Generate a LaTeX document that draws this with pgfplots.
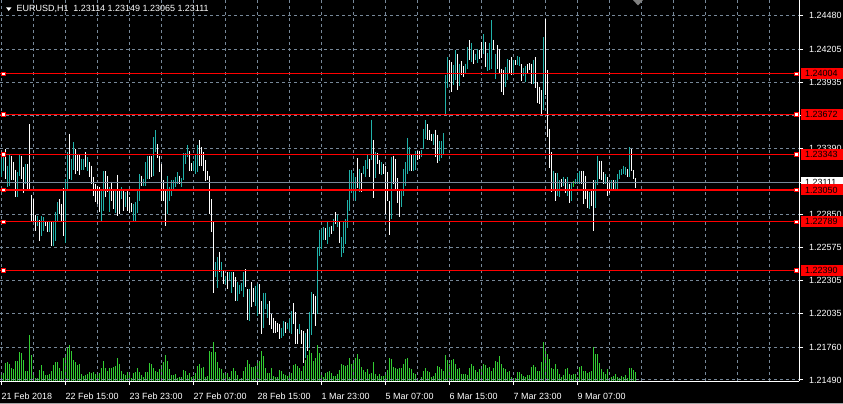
\documentclass[border=0pt]{standalone}
\usepackage{pgfplots}
\pgfplotsset{compat=1.18}
\usepackage{pgfplotstable}
\usepackage{fontspec}
\setmainfont{Liberation Sans}
\definecolor{mtgrid}{RGB}{119,136,153}
\definecolor{mtbull}{RGB}{32,178,170}
\definecolor{mtvol}{RGB}{50,205,50}
\newcommand{\lbl}{\fontsize{9}{10}\selectfont}

\pgfplotstableread[row sep=\\]{
k h l\\
0 1.23306 1.23155\\ 1 1.23333 1.23210\\ 3 1.23251 1.23073\\ 4 1.23347 1.23086\\ 8 1.23196 1.22990\\
9 1.23347 1.23169\\ 12 1.23265 1.23100\\ 18 1.22839 1.22757\\ 20 1.22834 1.22675\\ 21 1.22826 1.22716\\
24 1.22798 1.22702\\ 26 1.22790 1.22587\\ 27 1.22872 1.22634\\ 28 1.22949 1.22785\\ 32 1.23141 1.22614\\
33 1.23361 1.23045\\ 35 1.23306 1.23128\\ 36 1.23443 1.23218\\ 40 1.23306 1.23218\\ 41 1.23306 1.23218\\
43 1.23320 1.23202\\ 50 1.23045 1.22790\\ 51 1.23202 1.22881\\ 54 1.23073 1.22867\\ 57 1.23059 1.22861\\
60 1.23073 1.22977\\ 62 1.23031 1.22908\\ 66 1.22935 1.22798\\ 67 1.22949 1.22790\\ 68 1.23042 1.22861\\
69 1.23182 1.22963\\ 71 1.23141 1.23086\\ 72 1.23278 1.23086\\ 73 1.23333 1.23141\\ 76 1.23484 1.23169\\
77 1.23539 1.23361\\ 83 1.23169 1.22853\\ 84 1.23078 1.22963\\ 85 1.23128 1.23004\\ 86 1.23133 1.23045\\
87 1.23155 1.23073\\ 88 1.23196 1.23100\\ 90 1.23149 1.23073\\ 91 1.23355 1.23128\\ 92 1.23355 1.23265\\
93 1.23416 1.23320\\ 96 1.23287 1.23204\\ 97 1.23347 1.23182\\ 98 1.23416 1.23196\\ 107 1.22455 1.22332\\
108 1.22502 1.22244\\ 110 1.22455 1.22332\\ 112 1.22345 1.22277\\ 114 1.22373 1.22310\\ 115 1.22373 1.22200\\
118 1.22291 1.22140\\ 119 1.22269 1.22195\\ 120 1.22285 1.22222\\ 121 1.22373 1.22167\\ 124 1.22236 1.21975\\
127 1.22263 1.22099\\ 128 1.22277 1.22016\\ 131 1.22208 1.21915\\ 132 1.22208 1.22071\\ 133 1.22112 1.22002\\
140 1.21920 1.21832\\ 141 1.21975 1.21852\\ 143 1.21961 1.21906\\ 144 1.21989 1.21893\\ 145 1.22057 1.21865\\
149 1.21948 1.21865\\ 152 1.21879 1.21673\\ 154 1.22049 1.21756\\ 155 1.22214 1.21860\\ 158 1.22579 1.22030\\
159 1.22724 1.22510\\ 160 1.22730 1.22565\\ 161 1.22743 1.22639\\ 163 1.22798 1.22606\\ 164 1.22749 1.22667\\
166 1.22812 1.22716\\ 168 1.22848 1.22743\\ 170 1.22661 1.22502\\ 171 1.22785 1.22529\\ 172 1.22812 1.22606\\
173 1.22968 1.22738\\ 174 1.23215 1.22875\\ 175 1.23215 1.23023\\ 176 1.23188 1.22985\\ 177 1.23155 1.22957\\
179 1.23224 1.23031\\ 181 1.23243 1.23182\\ 182 1.23298 1.23155\\ 183 1.23347 1.23224\\ 185 1.23627 1.23298\\
187 1.23361 1.23149\\ 190 1.23278 1.23177\\ 195 1.23325 1.22812\\ 200 1.23051 1.22908\\ 201 1.23224 1.23004\\
202 1.23278 1.23086\\ 203 1.23479 1.23182\\ 204 1.23402 1.23204\\ 206 1.23342 1.23210\\ 207 1.23374 1.23215\\
210 1.23380 1.23325\\ 211 1.23553 1.23388\\ 212 1.23621 1.23471\\ 216 1.23512 1.23416\\ 219 1.23451 1.23292\\
220 1.23451 1.23314\\ 221 1.23517 1.23342\\ 222 1.23992 1.23663\\ 223 1.24143 1.23890\\ 226 1.24074 1.23910\\
227 1.24198 1.23951\\ 229 1.24088 1.23901\\ 232 1.24088 1.24006\\ 233 1.24225 1.24047\\ 235 1.24258 1.24102\\
237 1.24170 1.24121\\ 238 1.24211 1.24093\\ 241 1.24329 1.24170\\ 243 1.24176 1.24028\\ 244 1.24261 1.24033\\
245 1.24445 1.24047\\ 247 1.24170 1.23964\\ 252 1.24060 1.23896\\ 253 1.24129 1.23951\\ 256 1.24121 1.24006\\
258 1.24148 1.24074\\ 259 1.24143 1.24066\\ 261 1.24055 1.23984\\ 262 1.24066 1.23937\\ 266 1.24121 1.23923\\
271 1.24307 1.23704\\ 276 1.23210 1.23045\\ 278 1.23188 1.23004\\ 279 1.23128 1.22996\\ 281 1.23160 1.23086\\
283 1.23155 1.23004\\ 285 1.23106 1.22957\\ 287 1.23141 1.23100\\ 288 1.23188 1.23100\\ 289 1.23210 1.23100\\
294 1.23031 1.22894\\ 297 1.23128 1.22902\\ 298 1.23333 1.23095\\ 302 1.23182 1.23100\\ 305 1.23128 1.23045\\
307 1.23128 1.23051\\ 308 1.23182 1.23059\\ 309 1.23215 1.23141\\ 310 1.23224 1.23177\\ 311 1.23251 1.23182\\
312 1.23237 1.23177\\ 314 1.23402 1.23155\\
}\bull

\pgfplotstableread[row sep=\\]{
k h l\\
2 1.23388 1.23141\\ 5 1.23333 1.23128\\ 6 1.23284 1.23128\\ 7 1.23218 1.22990\\ 10 1.23333 1.23141\\
11 1.23237 1.23023\\ 13 1.23265 1.23045\\ 14 1.23589 1.23053\\ 15 1.23012 1.22798\\ 16 1.22977 1.22798\\
17 1.22848 1.22716\\ 19 1.22806 1.22634\\ 22 1.22798 1.22752\\ 23 1.22790 1.22702\\ 25 1.22785 1.22587\\
29 1.22977 1.22853\\ 30 1.22935 1.22785\\ 31 1.23067 1.22675\\ 34 1.23512 1.23141\\ 37 1.23388 1.23182\\
38 1.23347 1.23210\\ 39 1.23347 1.23174\\ 42 1.23366 1.23237\\ 44 1.23284 1.23155\\ 45 1.23251 1.23100\\
46 1.23155 1.23004\\ 47 1.23100 1.22949\\ 48 1.23086 1.22935\\ 49 1.23073 1.22867\\ 52 1.23202 1.22990\\
53 1.23169 1.23031\\ 55 1.23119 1.22963\\ 56 1.23051 1.22894\\ 58 1.23177 1.22834\\ 59 1.23045 1.22853\\
61 1.23051 1.22881\\ 63 1.23045 1.22881\\ 64 1.22990 1.22861\\ 65 1.22944 1.22867\\ 70 1.23169 1.23086\\
74 1.23333 1.23141\\ 75 1.23333 1.23155\\ 78 1.23429 1.23311\\ 79 1.23333 1.23196\\ 80 1.23265 1.22963\\
81 1.23133 1.22963\\ 82 1.23059 1.22757\\ 89 1.23169 1.23100\\ 94 1.23374 1.23204\\ 95 1.23270 1.23210\\
99 1.23457 1.23251\\ 100 1.23402 1.23251\\ 101 1.23361 1.23210\\ 102 1.23298 1.23122\\ 103 1.23204 1.23133\\
104 1.23169 1.22853\\ 105 1.22977 1.22702\\ 106 1.22785 1.22200\\ 109 1.22543 1.22373\\ 111 1.22392 1.22277\\
113 1.22373 1.22236\\ 116 1.22373 1.22255\\ 117 1.22332 1.22140\\ 122 1.22400 1.22255\\ 123 1.22236 1.21983\\
125 1.22291 1.22085\\ 126 1.22249 1.22126\\ 129 1.22277 1.22030\\ 130 1.22140 1.21871\\ 134 1.22140 1.21942\\
135 1.22035 1.21906\\ 136 1.22002 1.21879\\ 137 1.21975 1.21879\\ 138 1.21961 1.21887\\ 139 1.21948 1.21824\\
142 1.21967 1.21879\\ 146 1.22120 1.21948\\ 147 1.22044 1.21788\\ 148 1.21906 1.21788\\ 150 1.21898 1.21788\\
151 1.21893 1.21632\\ 153 1.21906 1.21728\\ 156 1.22195 1.22035\\ 157 1.22181 1.21934\\ 162 1.22738 1.22639\\
165 1.22757 1.22688\\ 167 1.22867 1.22771\\ 169 1.22793 1.22612\\ 178 1.23314 1.23067\\ 180 1.23188 1.23031\\
184 1.23306 1.23160\\ 186 1.23462 1.22985\\ 188 1.23353 1.23265\\ 189 1.23298 1.23182\\ 191 1.23265 1.23182\\
192 1.23251 1.22853\\ 193 1.23196 1.22963\\ 194 1.22963 1.22683\\ 196 1.23333 1.23100\\ 197 1.23306 1.23059\\
198 1.23149 1.22941\\ 199 1.23051 1.22826\\ 205 1.23347 1.23210\\ 208 1.23374 1.23298\\ 209 1.23374 1.23306\\
213 1.23589 1.23457\\ 214 1.23545 1.23457\\ 215 1.23506 1.23451\\ 217 1.23545 1.23325\\ 218 1.23498 1.23270\\
224 1.24115 1.23937\\ 225 1.24102 1.23855\\ 228 1.24170 1.23868\\ 230 1.24110 1.23992\\ 231 1.24066 1.23978\\
234 1.24280 1.24115\\ 236 1.24198 1.24082\\ 239 1.24203 1.24129\\ 240 1.24264 1.24137\\ 242 1.24266 1.24060\\
246 1.24285 1.24198\\ 248 1.24239 1.24047\\ 249 1.24211 1.24006\\ 250 1.24047 1.23855\\ 251 1.24039 1.23827\\
254 1.24115 1.24006\\ 255 1.24143 1.23992\\ 257 1.24115 1.24074\\ 260 1.24082 1.23945\\ 263 1.24082 1.24006\\
264 1.24093 1.24033\\ 265 1.24088 1.23918\\ 267 1.24143 1.23890\\ 268 1.23937 1.23764\\ 269 1.23896 1.23759\\
270 1.23868 1.23676\\ 272 1.24458 1.23827\\ 273 1.24039 1.23484\\ 274 1.23553 1.23232\\ 275 1.23361 1.23031\\
277 1.23188 1.22963\\ 280 1.23141 1.23073\\ 282 1.23141 1.23023\\ 284 1.23100 1.22941\\ 290 1.23210 1.23100\\
291 1.23210 1.22935\\ 292 1.23169 1.22977\\ 293 1.23059 1.22902\\ 295 1.23045 1.22922\\ 296 1.23128 1.22716\\
299 1.23292 1.23141\\ 300 1.23292 1.23128\\ 301 1.23196 1.23100\\ 303 1.23155 1.23004\\ 304 1.23106 1.23023\\
306 1.23128 1.23051\\ 313 1.23224 1.23155\\ 315 1.23388 1.23204\\ 316 1.23215 1.23141\\ 317 1.23149 1.23065\\
}\bear

\pgfplotstableread[row sep=\\]{
k h l\\
286 1.23122 1.23073\\
}\doji

\pgfplotstableread[row sep=\\]{
k v\\
0 9.3\\1 7.7\\2 17.7\\3 19.3\\4 16.7\\5 12.7\\6 11.7\\7 20\\8 20\\9 28.7\\
10 28\\11 20.7\\12 10\\13 10\\14 46\\15 26\\16 8.7\\17 2.7\\18 3.3\\19 10.7\\
20 16\\21 10\\22 6\\23 6\\24 6.7\\25 10\\26 16\\27 18.7\\28 18.7\\29 12.7\\
30 10\\31 22.7\\32 26.7\\33 33.3\\34 36\\35 30\\36 21\\37 19.3\\38 16\\39 16.7\\
40 6.7\\41 5.3\\42 6\\43 6.7\\44 8.7\\45 7.7\\46 9.3\\47 6.7\\48 8.7\\49 7.7\\
50 12.7\\51 20\\52 12.7\\53 10\\54 13.3\\55 12.7\\56 14.3\\57 15.3\\58 22.7\\59 16.7\\
60 10\\61 6.7\\62 6\\63 8.7\\64 9.3\\65 3.3\\66 8\\67 8.7\\68 12.7\\69 9.3\\
70 6\\71 4.3\\72 8.7\\73 9.3\\74 18\\75 17.3\\76 13.3\\77 10\\78 8.7\\79 12\\
80 16\\81 19.3\\82 26\\83 20.3\\84 11.7\\85 6\\86 6\\87 7\\88 2.7\\89 3.7\\
90 4.3\\91 11\\92 10.3\\93 6\\94 8.3\\95 4.3\\96 5\\97 8.3\\98 15\\99 17\\
100 12.7\\101 13.7\\102 3.7\\103 5\\104 30\\105 29.3\\106 39.3\\107 29.3\\108 19.3\\109 12.7\\
110 11.7\\111 7.7\\112 6\\113 8.3\\114 4.3\\115 10.3\\116 12.7\\117 10.3\\118 6\\119 1.7\\
120 2.7\\121 10.3\\122 14.3\\123 21\\124 17\\125 14.3\\126 14.3\\127 15\\128 21\\129 20\\
130 30\\131 25\\132 12.7\\133 8.3\\134 7.7\\135 12.7\\136 5\\137 3.7\\138 3.7\\139 11\\
140 10.3\\141 7\\142 6\\143 5\\144 8.3\\145 8.3\\146 16\\147 17\\148 15\\149 12.7\\
150 10.3\\151 15\\152 21\\153 26\\154 31\\155 27.7\\156 20.3\\157 22.7\\158 36\\159 28.3\\
160 8.3\\161 4\\162 8.3\\163 9.3\\164 10\\165 8.3\\166 5\\167 5\\168 6.7\\169 10.7\\
170 16.7\\171 16\\172 15\\173 16\\174 22.7\\175 16.7\\176 20\\177 22.7\\178 26.7\\179 21.7\\
180 14\\181 10.7\\182 9.3\\183 11.7\\184 6.7\\185 8.3\\186 19.3\\187 6.7\\188 5\\189 6.7\\
190 5\\191 5\\192 7.3\\193 10.7\\194 23.3\\195 21.7\\196 14\\197 12.7\\198 11.7\\199 12.7\\
200 13.3\\201 16.7\\202 21.7\\203 22.7\\204 12.7\\205 11.7\\206 8.3\\207 7.3\\208 1.7\\209 0.7\\
210 4\\211 10\\212 12.7\\213 10\\214 9\\215 4\\216 5\\217 8.3\\218 15\\219 14\\
220 11.7\\221 10\\222 26\\223 20.7\\224 16.7\\225 20.7\\226 21.7\\227 17.3\\228 11.7\\229 12.7\\
230 7.3\\231 6.7\\232 7.3\\233 6\\234 13.3\\235 17.3\\236 15\\237 10.7\\238 9.3\\239 11.7\\
240 15\\241 17.3\\242 16\\243 13.3\\244 14\\245 10\\246 13.3\\247 20\\248 19.3\\249 25\\
250 17.3\\251 13.3\\252 11.7\\253 9.3\\254 10\\255 4\\256 1.7\\257 3.3\\258 9.3\\259 9.3\\
260 6.7\\261 5\\262 4\\263 6\\264 6\\265 14\\266 16\\267 14\\268 10\\269 10\\
270 19.3\\271 39.3\\272 31.7\\273 27.3\\274 21.7\\275 12.7\\276 11.7\\277 16.7\\278 11.7\\279 7.3\\
280 4\\281 6\\282 11.7\\283 12.7\\284 6.7\\285 6\\286 6.7\\287 7.3\\288 4\\289 14\\
290 15\\291 10\\292 10\\293 8.3\\294 9.3\\295 10\\296 34\\297 27.3\\298 26.7\\299 18.3\\
300 11.7\\301 9.3\\302 7.3\\303 11.7\\304 2.7\\305 4\\306 5\\307 7.3\\308 4\\309 3.3\\
310 5\\311 4\\312 6\\313 3.3\\314 12.7\\315 12.7\\316 10.7\\317 9.3\\
}\vol

\begin{document}
\begin{tikzpicture}
\fill[black] (0,0) rectangle (843bp,404bp);
\path[use as bounding box] (0,0) rectangle (843bp,404bp);

% volume
\begin{axis}[at={(0bp,23bp)}, anchor=south west, width=799bp, height=381bp,
  scale only axis, xmin=-0.75, xmax=398.75, ymin=0, ymax=381, hide axis]
\addplot[ycomb, mtvol, line width=1bp, mark=none] table[x=k,y=v]{\vol};
\end{axis}

% price
\begin{axis}[at={(0bp,23bp)}, anchor=south west, width=799bp, height=381bp,
  scale only axis, xmin=-0.75, xmax=398.75, ymin=1.214811, ymax=1.246106,
  axis x line*=bottom, axis y line*=right,
  axis line style={white, line width=1bp},
  tick align=outside, major tick length=4bp, minor tick length=0pt,
  major tick style={white, line width=1bp},
  xtick={0,32,...,288},
  xticklabels={21 Feb 2018,22 Feb 15:00,23 Feb 23:00,27 Feb 07:00,28 Feb 15:00,1 Mar 23:00,5 Mar 07:00,6 Mar 15:00,7 Mar 23:00,9 Mar 07:00},
  minor xtick={16,48,...,304,320,336,352,368,384},
  ytick={1.21490,1.21760,1.22035,1.22305,1.22575,1.22850,1.23115,1.23390,1.23660,1.23935,1.24205,1.24480},
  yticklabels={1.21490,1.21760,1.22035,1.22305,1.22575,1.22850,1.23115,1.23390,1.23660,1.23935,1.24205,1.24480},
  xmajorgrids, xminorgrids, ymajorgrids,
  major grid style={mtgrid, dash pattern=on 3bp off 3bp, line width=1bp},
  minor grid style={mtgrid, dash pattern=on 3bp off 3bp, line width=1bp},
  tick label style={font=\lbl, text=white},
  xticklabel style={anchor=base west, inner sep=0pt, yshift=-14.7bp},
  yticklabel style={anchor=west, inner sep=0pt, xshift=6bp},
]
\addplot[draw=none, mark=none, forget plot, error bars/.cd, y dir=minus, y explicit, error mark=none,
  error bar style={draw=mtbull, line width=1bp}] table[x=k, y=h, y error expr=\thisrow{h}-\thisrow{l}]{\bull};
\addplot[draw=none, mark=none, forget plot, error bars/.cd, y dir=minus, y explicit, error mark=none,
  error bar style={draw=white, line width=1bp}] table[x=k, y=h, y error expr=\thisrow{h}-\thisrow{l}]{\bear};
\addplot[draw=none, mark=none, forget plot, error bars/.cd, y dir=minus, y explicit, error mark=none,
  error bar style={draw=mtvol, line width=1bp}] table[x=k, y=h, y error expr=\thisrow{h}-\thisrow{l}]{\doji};

% bid line
\addplot[mtgrid, line width=1bp] coordinates {(-0.75,1.23111) (398.75,1.23111)};

% horizontal levels
\addplot[red, line width=1.1bp] coordinates {(-0.75,1.24004) (398.75,1.24004)};
\addplot[red, line width=1.1bp] coordinates {(-0.75,1.23672) (398.75,1.23672)};
\addplot[red, line width=1.1bp] coordinates {(-0.75,1.23343) (398.75,1.23343)};
\addplot[red, line width=1.1bp] coordinates {(-0.75,1.23050) (398.75,1.23050)};
\addplot[red, line width=1.1bp] coordinates {(-0.75,1.22789) (398.75,1.22789)};
\addplot[red, line width=1.1bp] coordinates {(-0.75,1.22390) (398.75,1.22390)};
\addplot[only marks, mark=square*, mark size=1.75bp, mark options={fill=white, draw=red, line width=1bp}]
  coordinates {(1,1.24004)(397.5,1.24004)(1,1.23672)(397.5,1.23672)(1,1.23343)(397.5,1.23343)
               (1,1.23050)(397.5,1.23050)(1,1.22789)(397.5,1.22789)(1,1.22390)(397.5,1.22390)};

\coordinate (cp) at (axis cs:398.75,1.23111);
\coordinate (r1) at (axis cs:398.75,1.24004);
\coordinate (r2) at (axis cs:398.75,1.23672);
\coordinate (r3) at (axis cs:398.75,1.23343);
\coordinate (r4) at (axis cs:398.75,1.23050);
\coordinate (r5) at (axis cs:398.75,1.22789);
\coordinate (r6) at (axis cs:398.75,1.22390);
\end{axis}

\tikzset{pricebox/.style={anchor=west, text=black, font=\lbl, inner xsep=4.5bp, inner ysep=0pt,
  minimum height=11bp, text width=33.5bp, align=left}}
\node[pricebox, fill=white] at ([xshift=1.5bp]cp) {1.23111};
\node[pricebox, fill=red] at ([xshift=1.5bp]r1) {1.24004};
\node[pricebox, fill=red] at ([xshift=1.5bp]r2) {1.23672};
\node[pricebox, fill=red] at ([xshift=1.5bp]r3) {1.23343};
\node[pricebox, fill=red] at ([xshift=1.5bp]r4) {1.23050};
\node[pricebox, fill=red] at ([xshift=1.5bp]r5) {1.22789};
\node[pricebox, fill=red] at ([xshift=1.5bp]r6) {1.22390};

% header
\fill[white] (6bp,396.7bp) -- (11.5bp,396.7bp) -- (8.75bp,393bp) -- cycle;
\node[anchor=west, inner sep=0pt, text=white, font=\lbl] at (16.5bp,395bp) {EURUSD,H1\ \ 1.23114 1.23149 1.23065 1.23111};
\fill[gray] (633bp,404bp) -- (643bp,404bp) -- (638bp,398.5bp) -- cycle;
\draw[gray!70, line width=1bp] (0,0.5bp) -- (843bp,0.5bp);
\end{tikzpicture}
\end{document}
